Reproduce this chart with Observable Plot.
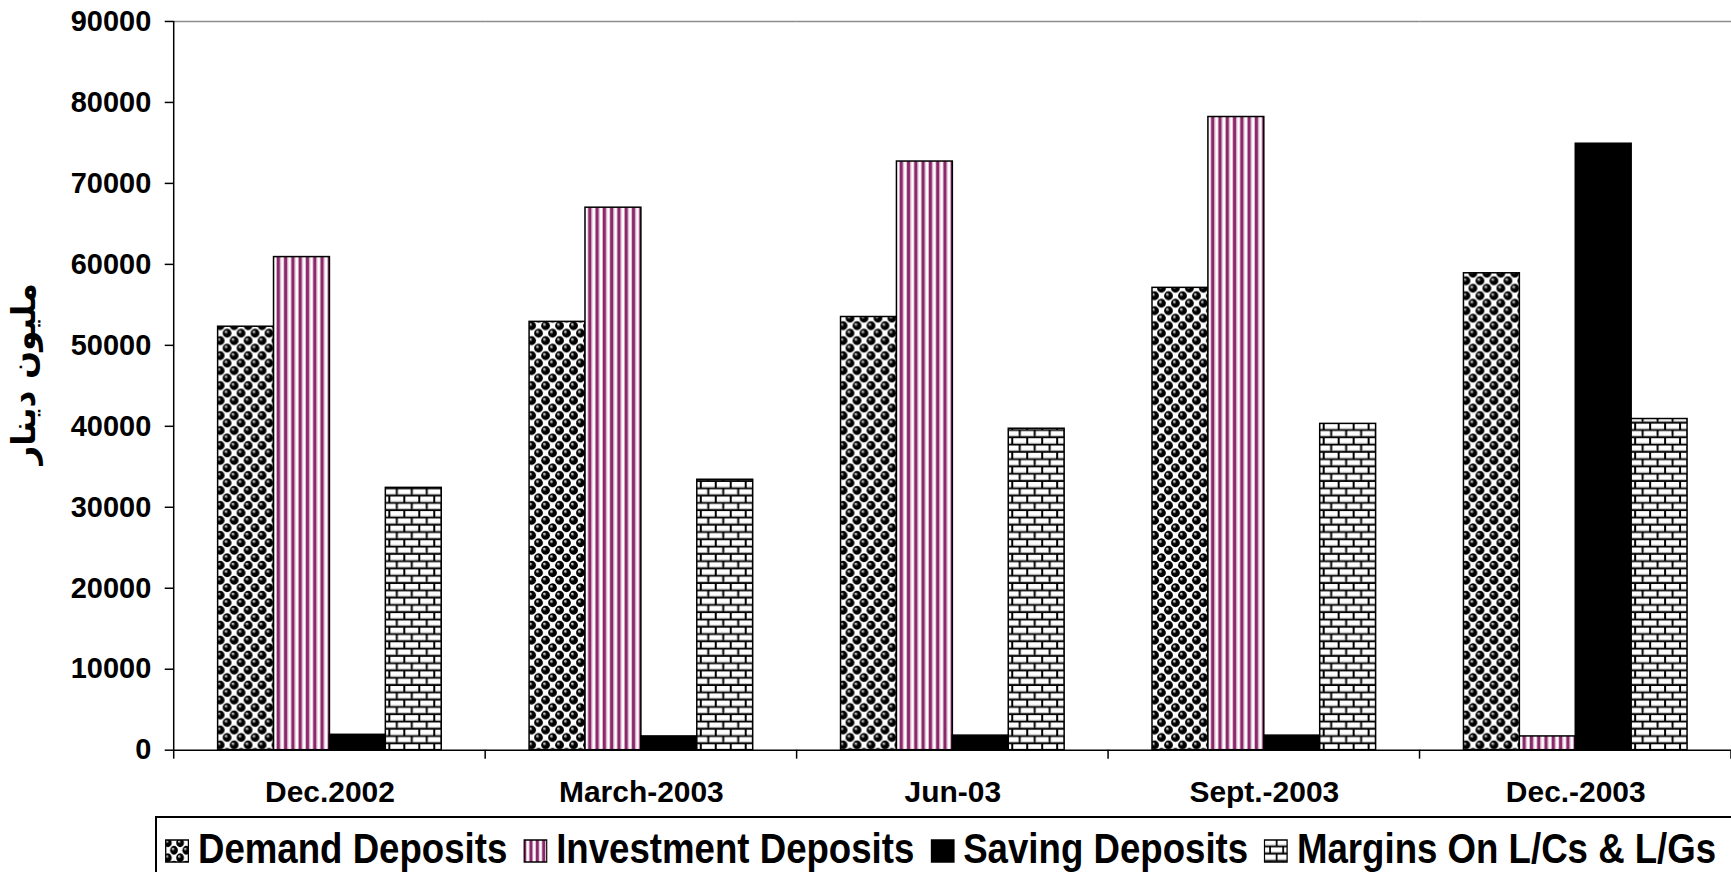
<!DOCTYPE html>
<html><head><meta charset="utf-8">
<script src="https://cdn.jsdelivr.net/npm/d3@7"></script>
<script src="https://cdn.jsdelivr.net/npm/@observablehq/plot@0.6"></script>
<style>
html,body{margin:0;padding:0;background:#fff;overflow:hidden;width:1731px;height:872px}
body{font-family:"Liberation Sans",Arial,"DejaVu Sans",sans-serif;font-weight:bold;color:#000}
#chart svg{display:block}
#legend{margin-left:155px;border-top:2px solid #000;border-left:2px solid #000;height:60px;white-space:nowrap}
#legend .row{transform:scaleX(0.872);transform-origin:0 0;font-size:42px;line-height:56px;padding-top:3px;padding-left:9px;white-space:nowrap}
#legend .item{display:inline-block;margin-right:18px}
#legend .sw{display:inline-block;vertical-align:baseline;margin-right:10px}
</style></head>
<body>
<svg width="0" height="0" style="position:absolute">
  <defs>
    <radialGradient id="sph" cx="0.5" cy="0.5" r="0.5" fx="0.32" fy="0.3">
      <stop offset="0" stop-color="#fff"/>
      <stop offset="0.2" stop-color="#999"/>
      <stop offset="0.45" stop-color="#000"/>
      <stop offset="1" stop-color="#000"/>
    </radialGradient>
    <pattern id="pDemand" patternUnits="userSpaceOnUse" width="14" height="15">
      <rect width="14" height="15" fill="#fff"/>
      <circle cx="3.5" cy="3.75" r="4.4" fill="url(#sph)"/>
      <circle cx="10.5" cy="11.25" r="4.4" fill="url(#sph)"/>
      <circle cx="-3.5" cy="11.25" r="4.4" fill="url(#sph)"/>
      <circle cx="17.5" cy="3.75" r="4.4" fill="url(#sph)"/>
      <circle cx="10.5" cy="-3.75" r="4.4" fill="url(#sph)"/>
      <circle cx="3.5" cy="18.75" r="4.4" fill="url(#sph)"/>
    </pattern>
    <pattern id="pInvest" patternUnits="userSpaceOnUse" width="7.3" height="10">
      <rect width="7.3" height="10" fill="#fff"/>
      <rect x="0" width="3.2" height="10" fill="#8b2a6b"/>
      <rect x="3.2" width="0.9" height="10" fill="#dcb0cc"/>
      <rect x="6.4" width="0.9" height="10" fill="#dcb0cc"/>
    </pattern>
    <pattern id="pBrick" patternUnits="userSpaceOnUse" width="15" height="14.6">
      <rect width="15" height="14.6" fill="#000"/>
      <rect x="1" y="1" width="13" height="5.4" fill="#fff"/>
      <rect x="1" y="5.6" width="13" height="0.8" fill="#aaa"/>
      <rect x="-6.5" y="8.3" width="13" height="5.4" fill="#fff"/>
      <rect x="8.5" y="8.3" width="13" height="5.4" fill="#fff"/>
      <rect x="-6.5" y="12.9" width="13" height="0.8" fill="#aaa"/>
      <rect x="8.5" y="12.9" width="13" height="0.8" fill="#aaa"/>
    </pattern>
  </defs>
</svg>
<div id="chart"></div>
<div id="legend"><div class="row"></div></div>
<script>
const categories = ["Dec.2002", "March-2003", "Jun-03", "Sept.-2003", "Dec.-2003"];
const series = ["Demand Deposits", "Investment Deposits", "Saving Deposits", "Margins On L/Cs & L/Gs"];
const demand = [52300, 52900, 53500, 57100, 58900];
const investment = [60900, 67000, 72700, 78200, 1700];
const saving = [1900, 1700, 1800, 1800, 74900];
const margins = [32400, 33400, 39700, 40300, 40900];
const yTicks = [0, 10000, 20000, 30000, 40000, 50000, 60000, 70000, 80000, 90000];
const yTitle = "مليون دينار";
const fills = ["url(#pDemand)", "url(#pInvest)", "#000", "url(#pBrick)"];

const seriesValues = [demand, investment, saving, margins];
const rows = [];
categories.forEach((c, i) => series.forEach((s, j) => rows.push({category: c, series: s, value: seriesValues[j][i]})));

const chart = Plot.plot({
  width: 1734, height: 817,
  marginLeft: 174, marginRight: 0, marginTop: 21, marginBottom: 66,
  style: {fontFamily: '"Liberation Sans", Arial, "DejaVu Sans", sans-serif', fontWeight: "bold", color: "#000", background: "#fff", overflow: "visible"},
  fx: {domain: categories, padding: 0, label: null},
  x: {domain: series, paddingInner: 0, paddingOuter: 0.75, axis: null},
  y: {domain: [0, 90000], label: null},
  color: {domain: series, range: fills},
  marks: [
    Plot.ruleY([90000], {stroke: "#8c8c8c", strokeWidth: 1.5}),
    Plot.barY(rows, {fx: "category", x: "series", y: "value", fill: "series", stroke: "#000", strokeWidth: 1.5}),
    Plot.ruleY([0], {stroke: "#000", strokeWidth: 1.5}),
    Plot.axisY({ticks: yTicks, tickSize: 9, tickPadding: 14, fontSize: 29, tickFormat: d3.format("d"), label: null, strokeWidth: 1.5}),
    Plot.axisFx({anchor: "bottom", tickSize: 0, tickPadding: 31, fontSize: 30, label: null}),
    Plot.text([categories[0]], {fx: d => d, text: () => yTitle, frameAnchor: "left", textAnchor: "middle", lineAnchor: "middle", rotate: -90, dx: -150, dy: -12, fontSize: 33, fontFamily: "DejaVu Sans", fontWeight: "bold", fill: "#000"})
  ]
});
document.getElementById("chart").appendChild(chart);

// axis line and category-boundary ticks, placed through the plot's own scales
const fxs = chart.scale("fx"), ys = chart.scale("y");
const g = d3.select(chart).append("g").attr("stroke", "#000").attr("stroke-width", 1.5);
const x0 = fxs.apply(categories[0]);
g.append("line").attr("x1", x0).attr("x2", x0).attr("y1", ys.apply(0)).attr("y2", ys.apply(90000));
const edges = categories.map(c => fxs.apply(c)).concat([fxs.apply(categories[categories.length - 1]) + fxs.bandwidth]);
edges.forEach(e => g.append("line").attr("x1", e).attr("x2", e).attr("y1", ys.apply(0)).attr("y2", ys.apply(0) + 9));

// legend
const row = d3.select("#legend .row");
series.forEach((s, j) => {
  const it = row.append("span").attr("class", "item");
  const sw = it.append("svg").attr("class", "sw").attr("width", 28).attr("height", 24);
  sw.append("rect").attr("x", 1).attr("y", 1).attr("width", 26).attr("height", 22).attr("fill", fills[j]).attr("stroke", "#000").attr("stroke-width", 1.5);
  it.append("span").text(s);
});
</script>
</body></html>
